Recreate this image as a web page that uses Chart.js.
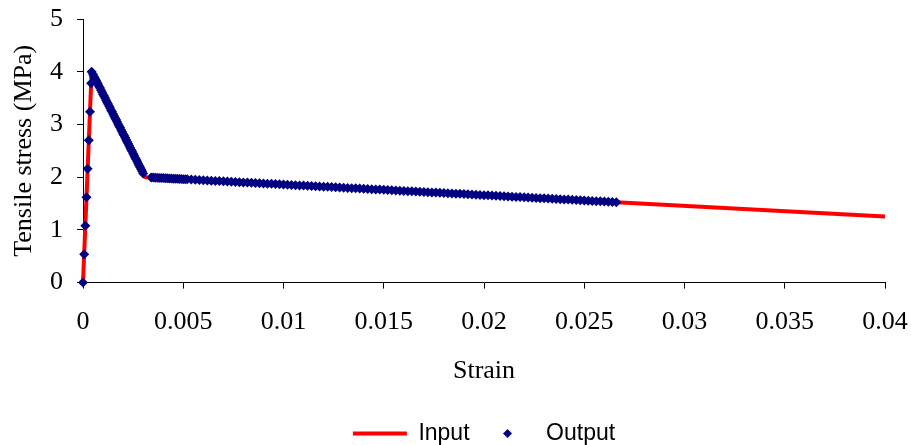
<!DOCTYPE html>
<html>
<head>
<meta charset="utf-8">
<script src="https://cdn.jsdelivr.net/npm/chart.js@4"></script>
<style>
  body { margin: 0; background: #fff; }
</style>
</head>
<body>
<canvas id="stressChart" width="911" height="445"></canvas>
<script>
// input curve (model)
const inputStrain = [0, 0.00043, 0.0031, 0.04];
const inputStress = [0, 4.0, 2.0, 1.254];

// output points
const outputStrain = [
    0, 0.000058, 0.000116, 0.000174, 0.000232, 0.00029, 0.000348, 0.000406, 0.00043,
    0.0005, 0.00055, 0.0006, 0.00065, 0.0007, 0.00075, 0.0008, 0.00085, 0.0009, 0.00095,
    0.0010, 0.00105, 0.0011, 0.00115, 0.0012, 0.00125, 0.0013, 0.00135, 0.0014, 0.00145,
    0.0015, 0.00155, 0.0016, 0.00165, 0.0017, 0.00175, 0.0018, 0.00185, 0.0019, 0.00195,
    0.0020, 0.00205, 0.0021, 0.00215, 0.0022, 0.00225, 0.0023, 0.00235, 0.0024, 0.00245,
    0.0025, 0.00255, 0.0026, 0.00265, 0.0027, 0.00275, 0.0028, 0.00285, 0.0029, 0.00295,
    0.0030,
    0.0034, 0.0035, 0.0036, 0.0037, 0.0038, 0.0039, 0.0040, 0.0041, 0.0042, 0.0043,
    0.0044, 0.0045, 0.0046, 0.0047, 0.0048, 0.0049, 0.0050, 0.0051, 0.0052,
    0.0054, 0.0056, 0.0058, 0.0060, 0.0062, 0.0064, 0.0066, 0.0068, 0.0070, 0.0072,
    0.0074, 0.0076, 0.0078, 0.0080, 0.0082, 0.0084, 0.0086, 0.0088, 0.0090, 0.0092,
    0.0094, 0.0096, 0.0098, 0.0100, 0.0102, 0.0104, 0.0106, 0.0108, 0.0110, 0.0112,
    0.0114, 0.0116, 0.0118, 0.0120, 0.0122, 0.0124, 0.0126, 0.0128, 0.0130, 0.0132,
    0.0134, 0.0136, 0.0138, 0.0140, 0.0142, 0.0144, 0.0146, 0.0148, 0.0150, 0.0152,
    0.0154, 0.0156, 0.0158, 0.0160, 0.0162, 0.0164, 0.0166, 0.0168, 0.0170, 0.0172,
    0.0174, 0.0176, 0.0178, 0.0180, 0.0182, 0.0184, 0.0186, 0.0188, 0.0190, 0.0192,
    0.0194, 0.0196, 0.0198, 0.0200, 0.0202, 0.0204, 0.0206, 0.0208, 0.0210, 0.0212,
    0.0214, 0.0216, 0.0218, 0.0220, 0.0222, 0.0224, 0.0226, 0.0228, 0.0230, 0.0232,
    0.0234, 0.0236, 0.0238, 0.0240, 0.0242, 0.0244, 0.0246, 0.0248, 0.0250, 0.0252,
    0.0254, 0.0256, 0.0258, 0.0260, 0.0262, 0.0264, 0.0266
];
const outputStress = [
    0, 0.54, 1.08, 1.62, 2.16, 2.70, 3.24, 3.78, 4.0,
    3.95, 3.91, 3.87, 3.84, 3.80, 3.76, 3.72, 3.69, 3.65, 3.61,
    3.57, 3.54, 3.50, 3.46, 3.42, 3.39, 3.35, 3.31, 3.27, 3.24,
    3.20, 3.16, 3.12, 3.09, 3.05, 3.01, 2.97, 2.94, 2.90, 2.86,
    2.82, 2.79, 2.75, 2.71, 2.67, 2.64, 2.60, 2.56, 2.52, 2.49,
    2.45, 2.41, 2.37, 2.34, 2.30, 2.26, 2.22, 2.19, 2.15, 2.11,
    2.07,
    1.994, 1.992, 1.990, 1.988, 1.986, 1.984, 1.982, 1.980, 1.978, 1.976,
    1.974, 1.972, 1.970, 1.968, 1.966, 1.964, 1.962, 1.960, 1.958,
    1.954, 1.949, 1.945, 1.941, 1.937, 1.933, 1.929, 1.925, 1.921, 1.917,
    1.913, 1.909, 1.905, 1.901, 1.897, 1.893, 1.889, 1.885, 1.881, 1.877,
    1.873, 1.869, 1.865, 1.861, 1.857, 1.852, 1.848, 1.844, 1.840, 1.836,
    1.832, 1.828, 1.824, 1.820, 1.816, 1.812, 1.808, 1.804, 1.800, 1.796,
    1.792, 1.788, 1.784, 1.780, 1.776, 1.772, 1.768, 1.764, 1.760, 1.756,
    1.752, 1.747, 1.743, 1.739, 1.735, 1.731, 1.727, 1.723, 1.719, 1.715,
    1.711, 1.707, 1.703, 1.699, 1.695, 1.691, 1.687, 1.683, 1.679, 1.675,
    1.671, 1.667, 1.663, 1.659, 1.655, 1.651, 1.646, 1.642, 1.638, 1.634,
    1.630, 1.626, 1.622, 1.618, 1.614, 1.610, 1.606, 1.602, 1.598, 1.594,
    1.590, 1.586, 1.582, 1.578, 1.574, 1.570, 1.566, 1.562, 1.558, 1.554,
    1.550, 1.545, 1.541, 1.537, 1.533, 1.529, 1.525
];

const navy = '#000080';
const serif = "'Liberation Serif', 'Times New Roman', serif";
const axisFont = { family: serif, size: 26 };

const toPoints = (xs, ys) => xs.map((x, i) => ({ x: x, y: ys[i] }));

// small diamond for the legend (the stretched rectRot looks wrong there)
const diamondIcon = document.createElement('canvas');
diamondIcon.width = 9;
diamondIcon.height = 9;
const dctx = diamondIcon.getContext('2d');
dctx.fillStyle = navy;
dctx.beginPath();
dctx.moveTo(4.5, 0);
dctx.lineTo(9, 4.5);
dctx.lineTo(4.5, 9);
dctx.lineTo(0, 4.5);
dctx.closePath();
dctx.fill();

const stressChart = document.getElementById('stressChart');

new Chart(stressChart, {
    type: 'scatter',
    data: {
        datasets: [{
            label: 'Input',
            data: toPoints(inputStrain, inputStress),
            showLine: true,
            borderColor: '#ff0000',
            backgroundColor: '#ff0000',
            borderWidth: 4,
            borderJoinStyle: 'round',
            pointRadius: 0,
            pointStyle: 'line',
            order: 1,
            clip: false
        }, {
            label: 'Output',
            data: toPoints(outputStrain, outputStress),
            showLine: false,
            backgroundColor: navy,
            borderColor: navy,
            borderWidth: 0,
            pointRadius: 5,
            pointStyle: 'rectRot',
            order: 0,
            clip: false
        }]
    },
    options: {
        responsive: false,
        animation: false,
        layout: {
            padding: { left: 0, right: 26, top: 19, bottom: -10 }
        },
        scales: {
            x: {
                type: 'linear',
                min: 0,
                max: 0.04,
                ticks: {
                    stepSize: 0.005,
                    color: '#000',
                    font: axisFont,
                    padding: 18,
                    maxRotation: 0,
                    callback: (v) => String(+v.toFixed(3))
                },
                grid: {
                    drawOnChartArea: false,
                    tickLength: 6,
                    tickColor: '#000'
                },
                border: { color: '#000', width: 1 },
                title: {
                    display: true,
                    text: 'Strain',
                    color: '#000',
                    font: axisFont,
                    padding: { top: 0, bottom: 24 }
                },
                afterFit: (scale) => {
                    scale.paddingLeft = 0;
                    scale.paddingRight = 0;
                }
            },
            y: {
                min: 0,
                max: 5,
                ticks: {
                    stepSize: 1,
                    color: '#000',
                    font: axisFont,
                    padding: 14
                },
                grid: {
                    drawOnChartArea: false,
                    tickLength: 6,
                    tickColor: '#000'
                },
                border: { color: '#000', width: 1 },
                title: {
                    display: true,
                    text: 'Tensile stress (MPa)',
                    color: '#000',
                    font: axisFont,
                    padding: { top: 9, bottom: 0 }
                },
                afterFit: (scale) => {
                    scale.width = 83;
                    scale.paddingTop = 0;
                    scale.paddingBottom = 0;
                }
            }
        },
        plugins: {
            legend: {
                position: 'bottom',
                fullSize: false,
                onClick: null,
                labels: {
                    usePointStyle: true,
                    pointStyleWidth: 54,
                    boxHeight: 5,
                    padding: 11,
                    color: '#000',
                    font: { family: "'Liberation Sans', Arial, sans-serif", size: 23 },
                    generateLabels: (chart) => {
                        const items = Chart.defaults.plugins.legend.labels.generateLabels(chart);
                        items.forEach((item) => {
                            if (item.pointStyle === 'rectRot') item.pointStyle = diamondIcon;
                        });
                        return items.sort((a, b) => a.datasetIndex - b.datasetIndex);
                    }
                }
            },
            tooltip: { enabled: false }
        }
    }
});
</script>
</body>
</html>
